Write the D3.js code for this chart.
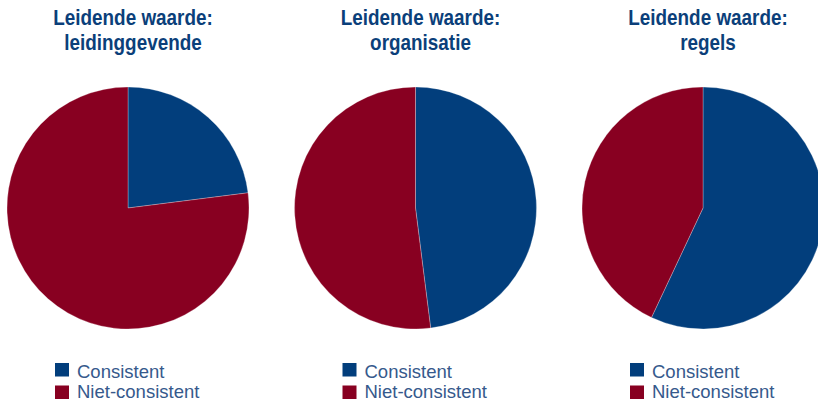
<!DOCTYPE html>
<html>
<head>
<meta charset="utf-8">
<script src="https://cdn.jsdelivr.net/npm/d3@7"></script>
<style>
  html, body { margin: 0; padding: 0; background: #fff; }
  svg { display: block; }
</style>
</head>
<body>
<svg id="chart" width="818" height="402"></svg>
<script>
// Pie titles (two lines each)
const titles = [
  ["Leidende waarde:", "leidinggevende"],
  ["Leidende waarde:", "organisatie"],
  ["Leidende waarde:", "regels"]
];
// Legend / slice categories
const categories = ["Consistent", "Niet-consistent"];
// Share (%) per pie, in category order
const consistent     = [23, 48, 57];
const nietConsistent = [77, 52, 43];

const colors = ["#023e7c", "#880021"];
const svg = d3.select("#chart");

const color = d3.scaleOrdinal().domain(categories).range(colors);
const centerX = d3.scalePoint().domain(d3.range(titles.length)).range([128, 703]);
const radius = 121, cy = 208;

const pie = d3.pie().sort(null).value(d => d.value);
const arc = d3.arc().innerRadius(0).outerRadius(radius);

titles.forEach((t, i) => {
  const cx = centerX(i);
  const data = [
    { key: categories[0], value: consistent[i] },
    { key: categories[1], value: nietConsistent[i] }
  ];
  const g = svg.append("g").attr("transform", `translate(${cx},${cy})`);
  g.selectAll("path").data(pie(data)).join("path")
    .attr("d", arc)
    .attr("fill", d => color(d.data.key))
    .attr("stroke", "rgba(255,255,255,0.45)")
    .attr("stroke-width", 0.6);

  // Title in a condensed bold face (horizontally compressed)
  const tg = svg.append("g").attr("transform", `translate(${cx + 5},0) scale(0.84,1)`);
  const title = tg.append("text")
    .attr("text-anchor", "middle")
    .attr("font-family", "'Liberation Sans', Arial, sans-serif")
    .attr("font-weight", "bold")
    .attr("font-size", 22.5)
    .attr("fill", "#0b3f7a");
  t.forEach((line, j) => {
    title.append("tspan").attr("x", 0).attr("y", 25.5 + j * 24.5).text(line);
  });

  // Legend
  const lg = svg.append("g").attr("transform", `translate(${cx - 73},363)`);
  categories.forEach((c, j) => {
    lg.append("rect")
      .attr("x", 0).attr("y", j * 22.5)
      .attr("width", 14).attr("height", 13.5)
      .attr("fill", color(c));
    lg.append("text")
      .attr("x", 22).attr("y", 14.5 + j * 20.5)
      .attr("font-family", "'Liberation Sans', Arial, sans-serif")
      .attr("font-size", 18.5)
      .attr("fill", "#36598c")
      .text(c);
  });
});
</script>
</body>
</html>
